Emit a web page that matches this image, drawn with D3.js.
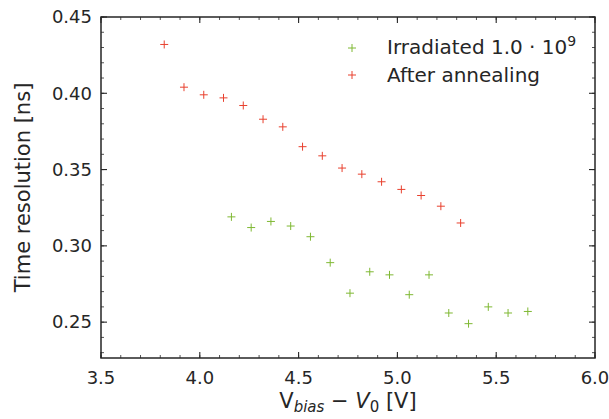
<!DOCTYPE html>
<html>
<head>
<meta charset="utf-8">
<script src="https://cdn.jsdelivr.net/npm/d3@7"></script>
<style>
  body { margin: 0; background: #fff; }
  svg text { font-family: "DejaVu Sans", sans-serif; fill: #262626; }
</style>
</head>
<body>
<div id="chart"></div>
<script>
const irradiatedX = [4.16, 4.26, 4.36, 4.46, 4.56, 4.66, 4.76, 4.86, 4.96, 5.06, 5.16, 5.26, 5.36, 5.46, 5.56, 5.66];
const irradiatedY = [0.319, 0.312, 0.316, 0.313, 0.306, 0.289, 0.269, 0.283, 0.281, 0.268, 0.281, 0.256, 0.249, 0.260, 0.256, 0.257];
const annealedX = [3.82, 3.92, 4.02, 4.12, 4.22, 4.32, 4.42, 4.52, 4.62, 4.72, 4.82, 4.92, 5.02, 5.12, 5.22, 5.32];
const annealedY = [0.432, 0.404, 0.399, 0.397, 0.392, 0.383, 0.378, 0.365, 0.359, 0.351, 0.347, 0.342, 0.337, 0.333, 0.326, 0.315];
const xTicks = [3.5, 4.0, 4.5, 5.0, 5.5, 6.0];
const yTicks = [0.25, 0.30, 0.35, 0.40, 0.45];

const W = 609, H = 419;
const m = { left: 101, right: 14, top: 17, bottom: 61 };

const svg = d3.select('#chart').append('svg')
  .attr('width', W).attr('height', H);

const x = d3.scaleLinear().domain([3.5, 6.0]).range([m.left, W - m.right]);
const y = d3.scaleLinear().domain([0.2265, 0.45]).range([H - m.bottom, m.top]);

const x0 = m.left, x1 = W - m.right, y0 = H - m.bottom, y1 = m.top;

const xMinor = d3.range(3.5, 6.0001, 0.1).map(v => +v.toFixed(2));
const yMinor = d3.range(0.23, 0.4501, 0.01).map(v => +v.toFixed(3));

const tickG = svg.append('g').attr('stroke', '#262626');

function vTicks(vals, len, sw) {
  vals.forEach(v => {
    tickG.append('line').attr('x1', x(v)).attr('x2', x(v)).attr('y1', y0).attr('y2', y0 - len).attr('stroke-width', sw);
    tickG.append('line').attr('x1', x(v)).attr('x2', x(v)).attr('y1', y1).attr('y2', y1 + len).attr('stroke-width', sw);
  });
}
function hTicks(vals, len, sw) {
  vals.forEach(v => {
    tickG.append('line').attr('y1', y(v)).attr('y2', y(v)).attr('x1', x0).attr('x2', x0 + len).attr('stroke-width', sw);
    tickG.append('line').attr('y1', y(v)).attr('y2', y(v)).attr('x1', x1).attr('x2', x1 - len).attr('stroke-width', sw);
  });
}
vTicks(xMinor, 3, 0.8);
hTicks(yMinor, 3, 0.8);
vTicks(xTicks, 6, 1.1);
hTicks(yTicks, 6, 1.1);

svg.append('rect')
  .attr('x', x0).attr('y', y1)
  .attr('width', x1 - x0).attr('height', y0 - y1)
  .attr('fill', 'none').attr('stroke', '#262626').attr('stroke-width', 1.5);

svg.append('g').selectAll('text')
  .data(xTicks).join('text')
  .attr('x', d => x(d)).attr('y', y0 + 26)
  .attr('text-anchor', 'middle').attr('font-size', 18)
  .text(d => d.toFixed(1));

svg.append('g').selectAll('text')
  .data(yTicks).join('text')
  .attr('x', x0 - 9).attr('y', d => y(d)).attr('dy', '0.35em')
  .attr('text-anchor', 'end').attr('font-size', 18)
  .text(d => d.toFixed(2));

function plus(g, data, color) {
  const s = 4;
  g.selectAll('path').data(data).join('path')
    .attr('d', d => `M${x(d[0]) - s},${y(d[1])}H${x(d[0]) + s}M${x(d[0])},${y(d[1]) - s}V${y(d[1]) + s}`)
    .attr('stroke', color).attr('stroke-width', 1).attr('fill', 'none');
}

const green = '#7fb833', red = '#e8402e';
plus(svg.append('g'), irradiatedX.map((v, i) => [v, irradiatedY[i]]), green);
plus(svg.append('g'), annealedX.map((v, i) => [v, annealedY[i]]), red);

// legend
const leg = svg.append('g');
[[green, 48], [red, 75]].forEach(([c, ly]) => {
  leg.append('path').attr('d', `M348,${ly}H356M352,${ly - 4}V${ly + 4}`)
    .attr('stroke', c).attr('stroke-width', 1);
});
const t1 = leg.append('text').attr('x', 387).attr('y', 47).attr('dy', '0.35em').attr('font-size', 20);
t1.append('tspan').text('Irradiated 1.0 · 10');
t1.append('tspan').attr('dy', -8).attr('font-size', 14).text('9');
leg.append('text').attr('x', 387).attr('y', 75).attr('dy', '0.35em').attr('font-size', 20).text('After annealing');

// axis labels
svg.append('text')
  .attr('transform', `translate(30,${(y0 + y1) / 2}) rotate(-90)`)
  .attr('text-anchor', 'middle').attr('font-size', 21)
  .text('Time resolution [ns]');

const xl = svg.append('text')
  .attr('x', (x0 + x1) / 2).attr('y', 408)
  .attr('text-anchor', 'middle').attr('font-size', 21);
xl.append('tspan').text('V');
xl.append('tspan').attr('font-style', 'italic').attr('font-size', 15).attr('dy', 4).text('bias');
xl.append('tspan').attr('dy', -4).text(' − ');
xl.append('tspan').attr('font-style', 'italic').text('V');
xl.append('tspan').attr('font-size', 15).attr('dy', 4).text('0');
xl.append('tspan').attr('dy', -4).text(' [V]');
</script>
</body>
</html>
